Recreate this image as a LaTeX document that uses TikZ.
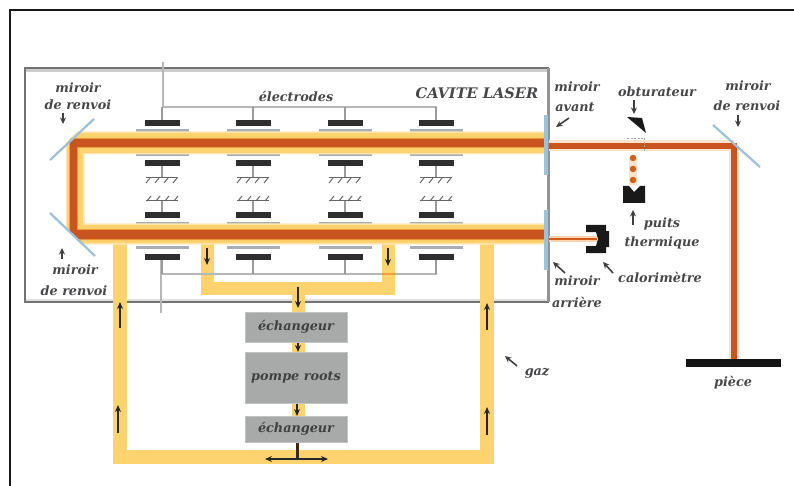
\documentclass[tikz,border=0pt]{standalone}
\usepackage{fontspec}
\setmainfont{DejaVu Serif}
\usetikzlibrary{arrows.meta}
\definecolor{beampale}{HTML}{FEE9B4}
\definecolor{beamyellow}{HTML}{FDD36F}
\definecolor{beammid}{HTML}{EFA03C}
\definecolor{beamred}{HTML}{C9541F}
\definecolor{halo}{HTML}{FCE3CC}
\definecolor{mirrorblue}{HTML}{9DC1D6}
\definecolor{plategray}{HTML}{A9ADB5}
\definecolor{wiregray}{HTML}{B5B7B8}
\definecolor{boxgray}{HTML}{A8AAA9}
\definecolor{inkgray}{HTML}{47474A}
\tikzset{
  lbl/.style={font=\bfseries\itshape\fontsize{12.8}{14}\selectfont, text=inkgray, inner sep=0pt},
  boxlbl/.style={fill=boxgray, draw=boxgray!70!white, line width=1pt, font=\bfseries\itshape\fontsize{12.8}{14}\selectfont, text=black!75, inner sep=0pt},
  bar/.style={fill=black!82, minimum width=35pt, minimum height=6.5pt, inner sep=0pt},
  plate/.style={fill=plategray, minimum width=53pt, minimum height=3pt, inner sep=0pt},
  wire/.style={wiregray, line width=2.2pt},
  stem/.style={wiregray!85!black, line width=2pt},
  gasflow/.style={beamyellow, line width=13.5pt},
  mirror/.style={mirrorblue, line width=2.2pt},
  flowarrow/.style={-{Stealth[length=7pt,width=6pt]}, black!85, line width=1.7pt},
  tagarrow/.style={-{Stealth[length=6.5pt,width=6pt]}, black!75, line width=1.6pt},
}
\begin{document}
\begin{tikzpicture}[x=1pt,y=-1pt]
\useasboundingbox (0,0) rectangle (794,486);
\fill[white] (0,0) rectangle (794,486);
% outer frame (cut by the page)
\coordinate (fa) at (9.5,486); \coordinate (fb) at (9.5,10.5); \coordinate (fc) at (794,10.5);
\draw[black!90, line width=2pt] (fa) -- (fb) -- (fc);
% cavity
\coordinate (c1) at (25,68); \coordinate (c2) at (548,302);
\draw[black!55, line width=2pt] (c1) rectangle (c2);
\draw[black!20, line width=2.4pt] (26,70.4) -- (547,70.4);
\draw[black!12, line width=2pt] (26,299.5) -- (547,299.5);
\draw[black!42, line width=3pt] (548,68) -- (548,302);
% gas circuit
\coordinate (g1) at (120,240); \coordinate (g2) at (120,457); \coordinate (g3) at (487,457); \coordinate (g4) at (487,240);
\draw[gasflow, line join=miter] (g1) -- (g2) -- (g3) -- (g4);
\coordinate (u1) at (207.5,240); \coordinate (u2) at (207.5,288.5); \coordinate (u3) at (388.5,288.5); \coordinate (u4) at (388.5,240);
\draw[gasflow, line join=miter] (u1) -- (u2) -- (u3) -- (u4);
% boxes
\node[boxlbl, minimum width=102pt, minimum height=30pt] (ex1) at (296,327) {échangeur};
\node[boxlbl, minimum width=102pt, minimum height=51pt] (pump) at (296,377.5) {pompe roots};
\node[boxlbl, minimum width=102pt, minimum height=26pt] (ex2) at (296,429) {échangeur};
\coordinate (um) at (298,288.5);
\draw[beamyellow, line width=13pt] (um) -- (ex1.north -| um);
\draw[beamyellow, line width=13pt] (ex1.south -| um) -- (pump.north -| um);
\draw[beamyellow, line width=13pt] (pump.south -| um) -- (ex2.north -| um);
% wires
\coordinate (wtop) at (163,62); \coordinate (wbot) at (161,313);
\coordinate (wt) at (163,107); \coordinate (wb) at (161,274);
\foreach \i/\x in {1/162,2/253,3/345,4/436}{
  \node[plate] (pa\i) at (\x,131) {};
  \node[plate] (pb\i) at (\x,154.5) {};
  \node[plate] (pc\i) at (\x,223.5) {};
  \node[plate] (pd\i) at (\x,247) {};
  \coordinate (gu\i) at (\x,178);
  \coordinate (gl\i) at (\x,201);
}
\draw[wire] (wtop) -- (wt) -- (436,107) -- (436,123);
\draw[wire] (wb) -- (436,274) -- (436,257);
\draw[wire] (wbot) -- (wb) -- (161,257);
\draw[beammid, line width=2.6pt] (382,274) -- (395,274);
% beams, cut by the slanted mirrors
\fill[beampale] (545,131.5) -- (77,131.5) -- (65.5,143) -- (65.5,228) -- (81,244.5) -- (545,244.5) -- (545,223.5) -- (84.5,223.5) -- (84.5,154.5) -- (545,154.5) -- cycle;
\fill[beamyellow] (545,133) -- (79,133) -- (67,144) -- (67,229) -- (81,243) -- (545,243) -- (545,225) -- (83,225) -- (83,153) -- (545,153) -- cycle;
\fill[beammid] (545,138) -- (71,138) -- (69,141) -- (69,231) -- (78,240) -- (545,240) -- (545,229) -- (78,229) -- (78,148) -- (545,148) -- cycle;
\fill[beamred] (545,139) -- (72.5,139) -- (70,141.5) -- (70,232) -- (77,239) -- (545,239) -- (545,230) -- (77,230) -- (77,147) -- (545,147) -- cycle;
% electrodes
\foreach \i/\x in {1/162,2/253,3/345,4/436}{
  \node[bar] (ba\i) at (\x,123) {};
  \node[bar] (bb\i) at (\x,163) {};
  \node[bar] (bc\i) at (\x,215) {};
  \node[bar] (bd\i) at (\x,257) {};
  \draw[stem] (ba\i.north) -- (\x,107);
  \draw[stem] (bd\i.south) -- (\x,274);
  \draw[stem] (bb\i.south) -- (gu\i);
  \draw[stem] (bc\i.north) -- (gl\i);
  \draw[black!60, line width=1pt] (\x-16,178) -- (\x+16,178);
  \draw[black!60, line width=1pt] (\x-16,201) -- (\x+16,201);
  \foreach \d in {-16,-7,2,11}{
    \draw[black!60, line width=1pt] (\x+\d+4,178) -- (\x+\d,183);
    \draw[black!60, line width=1pt] (\x+\d+1,201) -- (\x+\d+5,196);
  }
}
% mirrors
\coordinate (m1a) at (50,160); \coordinate (m1b) at (94,119);
\coordinate (m2a) at (50,213); \coordinate (m2b) at (95,256);
\coordinate (m3a) at (546,115); \coordinate (m3b) at (546,175);
\coordinate (m4a) at (546,210); \coordinate (m4b) at (546,270);
\coordinate (m5a) at (713,125); \coordinate (m5b) at (760,167);
\draw[mirror] (m1a) -- (m1b);
\draw[mirror] (m2a) -- (m2b);
\draw[mirror, line width=3.4pt] (m3a) -- (m3b);
\draw[mirror, line width=3.4pt] (m4a) -- (m4b);
% output beam
\node[fill=black!92, minimum width=95pt, minimum height=8pt, inner sep=0pt] (piece) at (733.5,363) {};
\coordinate (o1) at (549,146); \coordinate (o2) at (734,146);
\draw[halo, line width=11pt] (o1) -- (o2);
\draw[halo, line width=10pt] (o2) -- (piece.north -| o2);
\draw[beamred, line width=6pt, line join=miter] (o1) -- (o2) -- (piece.north -| o2);
\draw[mirror] (m5a) -- (m5b);
% obturateur
\fill[black!90] (627,117) -- (642,118) -- (646,133) -- cycle;
\draw[black!35, line width=.8pt, dash pattern=on 2pt off 1.5pt] (627,138) -- (644,138) -- (644,152);
% puits
\coordinate (d1) at (633,158); \coordinate (d2) at (633,185);
\draw[halo, line width=8pt] (d1) -- (d2);
\draw[beamred!75!orange, line width=6.5pt, dash pattern=on 0pt off 11pt, line cap=round] (d1) -- (d2);
\fill[black!90] (623,186) -- (629,186) -- (634,192) -- (640,186) -- (645,186) -- (645,203) -- (623,203) -- cycle;
% calorimetre
\coordinate (k1) at (549,239); \coordinate (k2) at (597,239);
\draw[halo!85!orange, line width=5.5pt] (k1) -- (k2);
\draw[beamred!85!orange, line width=1.8pt] (k1) -- (k2);
\fill[black!90] (586,225) -- (606,225) -- (606,231) -- (609,231) -- (609,247) -- (606,247) -- (606,253) -- (586,253) -- (586,246) -- (596,246) -- (598,239) -- (596,232) -- (586,232) -- cycle;
% flow arrows
\draw[flowarrow] (207,248) -- (207,265);
\draw[flowarrow] (388,248) -- (388,266);
\draw[flowarrow] (298,287) -- (298,308);
\draw[flowarrow] (298,343) -- (298,352);
\draw[flowarrow] (297,404) -- (297,416);
\draw[flowarrow] (120,328) -- (120,302);
\draw[flowarrow] (118,433) -- (118,405);
\draw[flowarrow] (487,330) -- (487,303);
\draw[flowarrow] (487,435) -- (487,407);
\coordinate (t0) at (297,459);
\draw[black!70!brown, line width=3pt] (ex2.south -| t0) -- (t0);
\draw[{Stealth[length=7pt,width=6pt]}-{Stealth[length=7pt,width=6pt]}, black!85, line width=1.6pt] (265,459) -- (328,459);
% labels
\node[lbl] (l1) at (78,88) {miroir};
\node[lbl] (l2) at (78,105) {de renvoi};
\node[lbl] (l3) at (75,270) {miroir};
\node[lbl] (l4) at (74,291) {de renvoi};
\node[lbl] (l5) at (296,96) {électrodes};
\node[lbl, font=\bfseries\itshape\fontsize{14.6}{16}\selectfont] (l6) at (477,93) {CAVITE LASER};
\node[lbl] (l7) at (577,87) {miroir};
\node[lbl] (l8) at (575,107) {avant};
\node[lbl] (l9) at (577,281) {miroir};
\node[lbl] (l10) at (577,302) {arrière};
\node[lbl] (l11) at (657,92) {obturateur};
\node[lbl] (l12) at (748,86) {miroir};
\node[lbl] (l13) at (747,106) {de renvoi};
\node[lbl] (l14) at (662,224) {puits};
\node[lbl] (l15) at (662,243) {thermique};
\node[lbl] (l16) at (660,277) {calorimètre};
\node[lbl] (l17) at (733,383) {pièce};
\node[lbl] (l18) at (537,373) {gaz};
% tag arrows
\coordinate (a1) at (63,113); \coordinate (a1e) at (63,124);
\coordinate (a2) at (62,259); \coordinate (a2e) at (62,248);
\coordinate (a3) at (569,118); \coordinate (a3e) at (556,127);
\coordinate (a4) at (565,273); \coordinate (a4e) at (553,262);
\coordinate (a5) at (634,100); \coordinate (a5e) at (634,114);
\coordinate (a6) at (738,115); \coordinate (a6e) at (738,127);
\coordinate (a7) at (633,225); \coordinate (a7e) at (633,210);
\coordinate (a8) at (613,273); \coordinate (a8e) at (603,262);
\coordinate (a9) at (517,366); \coordinate (a9e) at (505,356);
\foreach \n in {1,...,9}{ \draw[tagarrow] (a\n) -- (a\n e); }
\end{tikzpicture}
\end{document}
